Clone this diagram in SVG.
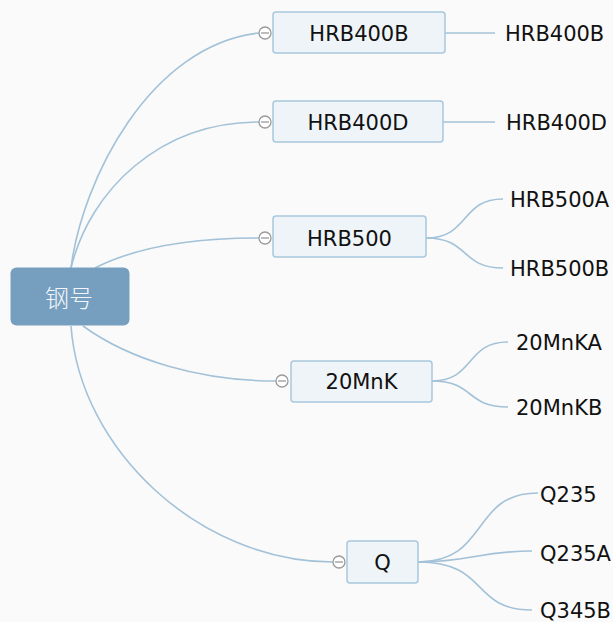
<svg xmlns="http://www.w3.org/2000/svg" width="613" height="622" viewBox="0 0 613 622">
  <style>
    .link { fill: none; stroke: #a3c2d8; stroke-width: 1.6; }
    .topic rect { fill: #eef4f8; stroke: #a9c7dd; stroke-width: 1.5; }
    .label { font-family: "DejaVu Sans", "Noto Sans", sans-serif; font-size: 21px; fill: #111; }
    .mid { text-anchor: middle; }
    .fold circle { fill: #ffffff; stroke: #9a9a9a; stroke-width: 1.3; }
    .fold line { stroke: #9a9a9a; stroke-width: 1.3; }
  </style>
  <rect width="613" height="622" fill="#fafafa"/>

  <!-- connectors -->
  <g id="connectors">
    <path class="link" d="M71 268 C 82 180, 150 45, 259 33"/>
    <path class="link" d="M71 268 C 90 190, 160 122, 259 122"/>
    <path class="link" d="M95 268 C 130 250, 180 238, 259 238"/>
    <path class="link" d="M83 326 C 130 360, 200 381, 276 381"/>
    <path class="link" d="M71 326 C 80 450, 200 562, 333 562"/>

    <path class="link" d="M445 33 L 495 33"/>
    <path class="link" d="M443 122 L 495 122"/>

    <path class="link" d="M426 238 C 470 238, 460 199, 503 199"/>
    <path class="link" d="M426 238 C 470 238, 460 268, 503 268"/>

    <path class="link" d="M432 381 C 475 381, 465 342, 508 342"/>
    <path class="link" d="M432 381 C 475 381, 465 407, 508 407"/>

    <path class="link" d="M418 562 C 490 562, 470 493, 538 493"/>
    <path class="link" d="M418 562 C 470 562, 480 551, 532 551"/>
    <path class="link" d="M418 562 C 490 562, 470 610, 532 610"/>
  </g>

  <!-- central topic -->
  <g id="root">
    <rect x="10.5" y="267.5" width="119" height="58" rx="6" fill="#769fbf"/>
    <text x="69" y="307" text-anchor="middle" font-family="Noto Sans CJK SC, sans-serif" font-size="24" font-weight="300" fill="#f2f6fa">钢号</text>
  </g>

  <g id="t-hrb400b" class="topic">
    <rect x="273" y="12" width="172" height="41" rx="3"/>
    <text class="label mid" x="359" y="41">HRB400B</text>
    <g class="fold"><circle cx="265" cy="33" r="6"/><line x1="261" y1="33" x2="269" y2="33"/></g>
  </g>
  <g id="t-hrb400d" class="topic">
    <rect x="273" y="101" width="170" height="41" rx="3"/>
    <text class="label mid" x="358" y="130">HRB400D</text>
    <g class="fold"><circle cx="265" cy="122" r="6"/><line x1="261" y1="122" x2="269" y2="122"/></g>
  </g>
  <g id="t-hrb500" class="topic">
    <rect x="273" y="216" width="153" height="41" rx="3"/>
    <text class="label mid" x="349.5" y="246">HRB500</text>
    <g class="fold"><circle cx="265" cy="238" r="6"/><line x1="261" y1="238" x2="269" y2="238"/></g>
  </g>
  <g id="t-20mnk" class="topic">
    <rect x="291" y="361" width="141" height="41" rx="3"/>
    <text class="label mid" x="361.5" y="389">20MnK</text>
    <g class="fold"><circle cx="282" cy="381" r="6"/><line x1="278" y1="381" x2="286" y2="381"/></g>
  </g>
  <g id="t-q" class="topic">
    <rect x="347" y="541" width="71" height="42" rx="3"/>
    <text class="label mid" x="382.5" y="570">Q</text>
    <g class="fold"><circle cx="339" cy="562" r="6"/><line x1="335" y1="562" x2="343" y2="562"/></g>
  </g>

  <!-- leaf topics -->
  <g id="l-hrb400b"><text class="label" x="505" y="41">HRB400B</text></g>
  <g id="l-hrb400d"><text class="label" x="506" y="130">HRB400D</text></g>
  <g id="l-hrb500a"><text class="label" x="510" y="207">HRB500A</text></g>
  <g id="l-hrb500b"><text class="label" x="510" y="276">HRB500B</text></g>
  <g id="l-20mnka"><text class="label" x="516" y="350">20MnKA</text></g>
  <g id="l-20mnkb"><text class="label" x="516" y="415">20MnKB</text></g>
  <g id="l-q235"><text class="label" x="540" y="502">Q235</text></g>
  <g id="l-q235a"><text class="label" x="540" y="561">Q235A</text></g>
  <g id="l-q345b"><text class="label" x="540" y="618">Q345B</text></g>
</svg>
